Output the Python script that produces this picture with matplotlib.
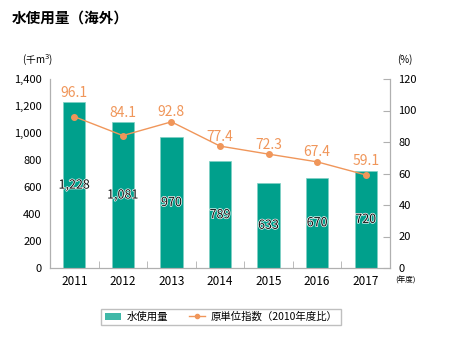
import matplotlib.pyplot as plt
import matplotlib.patheffects as pe
from matplotlib.patches import Patch
from matplotlib.lines import Line2D
import numpy as np

plt.rcParams['font.family'] = ['Noto Sans CJK JP', 'DejaVu Sans']

years = ['2011', '2012', '2013', '2014', '2015', '2016', '2017']
water = [1228, 1081, 970, 789, 633, 670, 720]
index = [96.1, 84.1, 92.8, 77.4, 72.3, 67.4, 59.1]

bar_color = '#00a08c'
line_color = '#f0965a'
spine_color = '#b0b0b0'

fig = plt.figure(figsize=(4.5, 3.5), dpi=100)
ax = fig.add_axes([50/450, 1 - 268/350, 340/450, 189/350])
ax2 = ax.twinx()

x = np.arange(len(years))
ax.bar(x, water, width=0.46, color=bar_color, edgecolor='#7fd0c4', linewidth=0.5, zorder=2)
ax.set_xlim(-0.5, len(years) - 0.5)
ax.set_ylim(0, 1400)
ax.set_yticks(range(0, 1401, 200))
ax.set_yticklabels([f'{v:,}' for v in range(0, 1401, 200)])
ax.set_xticks(x)
ax.set_xticklabels(years)
ax.set_xticks(x[:-1] + 0.5, minor=True)
ax.tick_params(axis='x', which='major', length=0, labelsize=8.5, pad=5)
ax.tick_params(axis='x', which='minor', direction='in', length=5, color=spine_color)
ax.tick_params(axis='y', length=0, labelsize=8, pad=6)

for xi, v in zip(x, water):
    ax.text(xi, v / 2, f'{v:,}', ha='center', va='center', fontsize=9, color='#111111',
            path_effects=[pe.withStroke(linewidth=1, foreground='white')], zorder=4)

ax2.plot(x, index, color=line_color, marker='o', markersize=4, linewidth=1, zorder=3)
ax2.set_ylim(0, 120)
ax2.set_yticks(range(0, 121, 20))
ax2.tick_params(axis='y', direction='in', length=5, color=spine_color, labelsize=8, pad=6)

for xi, v, w in zip(x, index, water):
    top = max(v, w / 1400 * 120)
    ax2.text(xi, top + 1.5, f'{v}', ha='center', va='bottom', fontsize=10, color=line_color)

for a in (ax, ax2):
    a.spines['top'].set_visible(False)
    for s in ('left', 'right', 'bottom'):
        a.spines[s].set_color(spine_color)
        a.spines[s].set_linewidth(0.8)

fig.text(12/450, 1 - 18/350, '水使用量（海外）', fontsize=10.5, fontweight='bold', va='center', ha='left')
fig.text(38/450, 1 - 60/350, '(千m$^3$)', fontsize=7, va='center', ha='center')
fig.text(405/450, 1 - 60/350, '(%)', fontsize=7, va='center', ha='center')
fig.text(405/450, 1 - 281/350, '(年度)', fontsize=5.5, va='center', ha='center')

handles = [Patch(facecolor='#3fb8a8', edgecolor='none'),
           Line2D([0], [0], color=line_color, marker='o', markersize=3, linewidth=1)]
fig.legend(handles, ['水使用量', '原単位指数（2010年度比）'], loc='center',
           bbox_to_anchor=(221/450, 1 - 317/350), ncol=2, fontsize=7.5, frameon=True,
           fancybox=False, edgecolor=spine_color, handlelength=1.6, handleheight=0.8,
           handletextpad=0.5, columnspacing=2.0, borderpad=0.3)

fig.savefig('out.png', dpi=100)
